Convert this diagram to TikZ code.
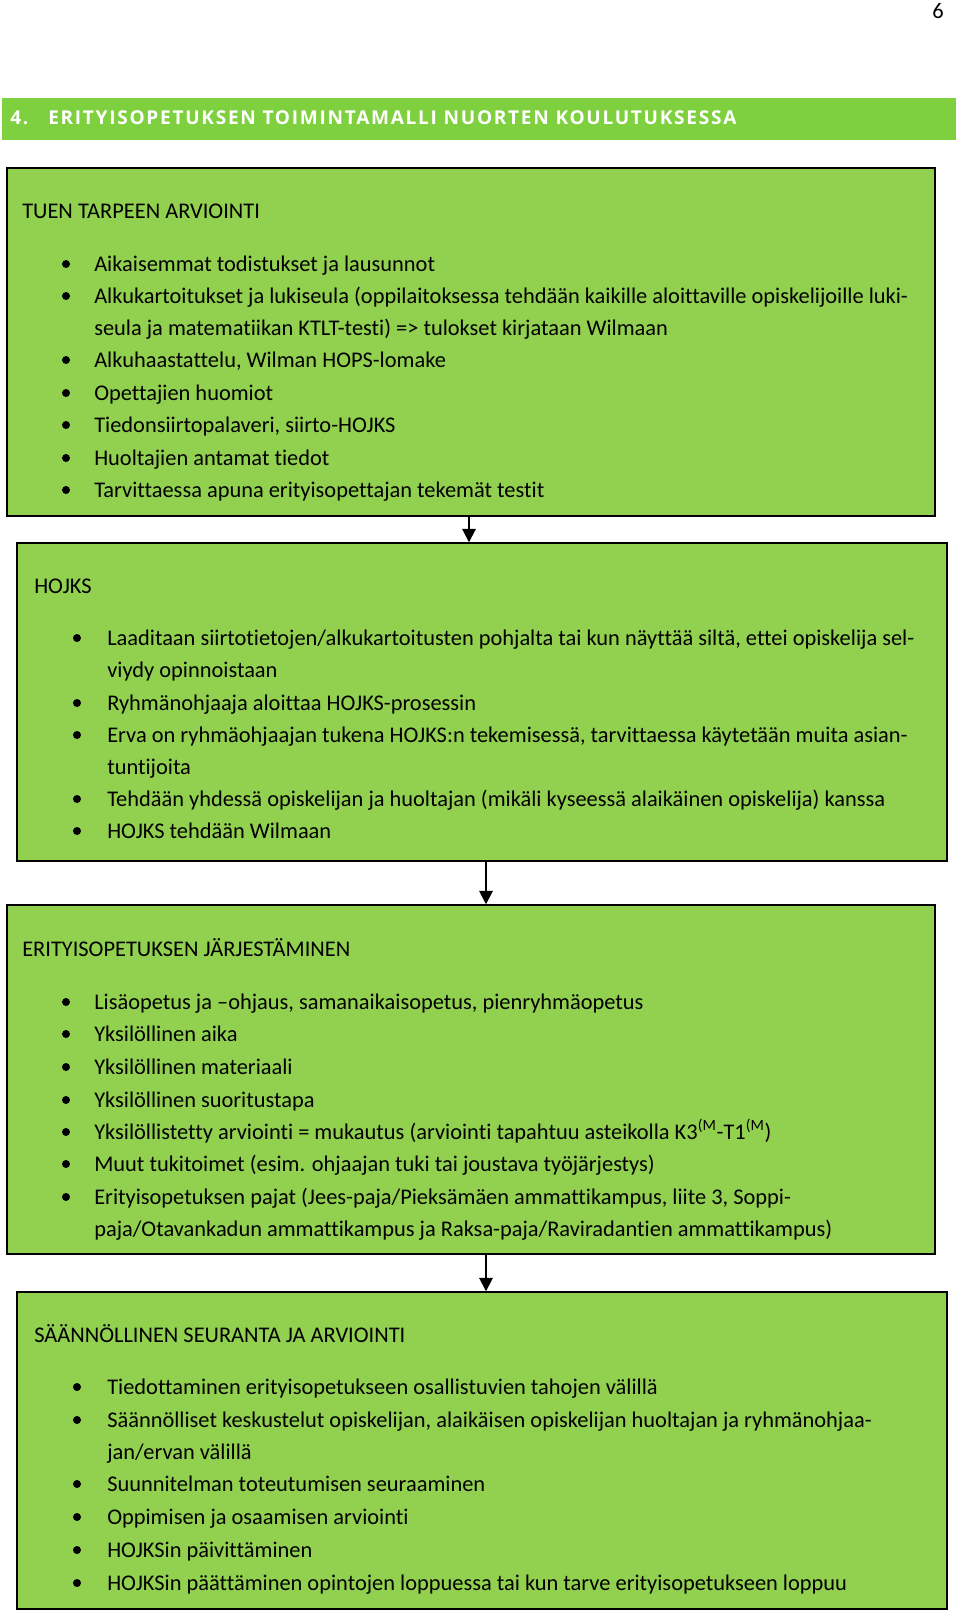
\documentclass[tikz,border=0pt]{standalone}
\usepackage{fontspec}
\setmainfont{Carlito}[Ligatures={TeX,NoCommon}]
\newfontfamily\titlefont[LetterSpace=9]{Open Sans}
\usetikzlibrary{arrows.meta,fit}
\definecolor{boxgreen}{HTML}{92D050}
\definecolor{headgreen}{HTML}{7ED03E}
\begin{document}
\begin{tikzpicture}[x=0.75pt,y=-0.75pt,
  box/.style={draw=black, line width=1.1pt, fill=boxgreen, inner sep=0pt},
  txt/.style={anchor=base west, inner sep=0pt, font=\fontsize{16.8}{20}\selectfont},
  dot/.style={circle, fill=black, inner sep=0pt, minimum size=6pt},
  flow/.style={line width=1.4pt, -{Triangle[length=10pt,width=10pt]}},
  head/.style={anchor=base west, inner sep=0pt, text=white, font=\titlefont\bfseries\fontsize{14.3}{16}\selectfont}]
\useasboundingbox (0,0) rectangle (960,1611);
% page number
\node[anchor=base, inner sep=0pt, font=\fontsize{16.8}{20}\selectfont] (pg) at (938,18) {6};
% header bar
\node[fill=headgreen, inner sep=0pt, fit={(2,98) (956,140)}] (hd) {};
\node[head] (hnum) at (10,124) {4.};
\node[head] (htitle) at (48,124) {ERITYISOPETUKSEN TOIMINTAMALLI NUORTEN KOULUTUKSESSA};
% boxes
\node[box, fit={(7,168) (935,516)}] (b1) {};
\node[box, fit={(17,543) (947,861)}] (b2) {};
\node[box, fit={(7,905) (935,1254)}] (b3) {};
\node[box, fit={(17,1292) (947,1609)}] (b4) {};
% arrows
\draw[flow] ([xshift=-1.5pt]b1.south) -- ([xshift=-1.5pt]b1.south |- b2.north);
\draw[flow] ([xshift=3pt]b2.south) -- ([xshift=3pt]b2.south |- b3.north);
\draw[flow] ([xshift=11.25pt]b3.south) -- ([xshift=11.25pt]b3.south |- b4.north);
% box 1
\node[txt] (b1h) at (22,218) {TUEN TARPEEN ARVIOINTI};
\node[dot] (b1d1) at (66,264) {};
\node[txt] (b1t1) at (94,271) {Aikaisemmat todistukset ja lausunnot};
\node[dot] (b1d2) at (66,296) {};
\node[txt] (b1t2) at (94,303) {Alkukartoitukset ja lukiseula (oppilaitoksessa tehdään kaikille aloittaville opiskelijoille luki-};
\node[txt] (b1t3) at (94,335) {seula ja matematiikan KTLT-testi) => tulokset kirjataan Wilmaan};
\node[dot] (b1d4) at (66,360) {};
\node[txt] (b1t4) at (94,367) {Alkuhaastattelu, Wilman HOPS-lomake};
\node[dot] (b1d5) at (66,393) {};
\node[txt] (b1t5) at (94,400) {Opettajien huomiot};
\node[dot] (b1d6) at (66,425) {};
\node[txt] (b1t6) at (94,432) {Tiedonsiirtopalaveri, siirto-HOJKS};
\node[dot] (b1d7) at (66,458) {};
\node[txt] (b1t7) at (94,465) {Huoltajien antamat tiedot};
\node[dot] (b1d8) at (66,490) {};
\node[txt] (b1t8) at (94,497) {Tarvittaessa apuna erityisopettajan tekemät testit};
% box 2
\node[txt] (b2h) at (34,593) {HOJKS};
\node[dot] (b2d1) at (77,638) {};
\node[txt] (b2t1) at (107,645) {Laaditaan siirtotietojen/alkukartoitusten pohjalta tai kun näyttää siltä, ettei opiskelija sel-};
\node[txt] (b2t2) at (107,677) {viydy opinnoistaan};
\node[dot] (b2d3) at (77,703) {};
\node[txt] (b2t3) at (107,710) {Ryhmänohjaaja aloittaa HOJKS-prosessin};
\node[dot] (b2d4) at (77,735) {};
\node[txt] (b2t4) at (107,742) {Erva on ryhmäohjaajan tukena HOJKS:n tekemisessä, tarvittaessa käytetään muita asian-};
\node[txt] (b2t5) at (107,774) {tuntijoita};
\node[dot] (b2d6) at (77,799) {};
\node[txt] (b2t6) at (107,806) {Tehdään yhdessä opiskelijan ja huoltajan (mikäli kyseessä alaikäinen opiskelija) kanssa};
\node[dot] (b2d7) at (77,831) {};
\node[txt] (b2t7) at (107,838) {HOJKS tehdään Wilmaan};
% box 3
\node[txt] (b3h) at (22,956) {ERITYISOPETUKSEN JÄRJESTÄMINEN};
\node[dot] (b3d1) at (66,1002) {};
\node[txt] (b3t1) at (94,1009) {Lisäopetus ja –ohjaus, samanaikaisopetus, pienryhmäopetus};
\node[dot] (b3d2) at (66,1034) {};
\node[txt] (b3t2) at (94,1041) {Yksilöllinen aika};
\node[dot] (b3d3) at (66,1067) {};
\node[txt] (b3t3) at (94,1074) {Yksilöllinen materiaali};
\node[dot] (b3d4) at (66,1100) {};
\node[txt] (b3t4) at (94,1107) {Yksilöllinen suoritustapa};
\node[dot] (b3d5) at (66,1132) {};
\node[txt] (b3t5) at (94,1139) {Yksilöllistetty arviointi = mukautus (arviointi tapahtuu asteikolla K3\textsuperscript{(M}-T1\textsuperscript{(M})};
\node[dot] (b3d6) at (66,1164) {};
\node[txt] (b3t6) at (94,1171) {Muut tukitoimet (esim. ohjaajan tuki tai joustava työjärjestys)};
\node[dot] (b3d7) at (66,1197) {};
\node[txt] (b3t7) at (94,1204) {Erityisopetuksen pajat (Jees-paja/Pieksämäen ammattikampus, liite 3, Soppi-};
\node[txt] (b3t8) at (94,1236) {paja/Otavankadun ammattikampus ja Raksa-paja/Raviradantien ammattikampus)};
% box 4
\node[txt] (b4h) at (34,1342) {SÄÄNNÖLLINEN SEURANTA JA ARVIOINTI};
\node[dot] (b4d1) at (77,1387) {};
\node[txt] (b4t1) at (107,1394) {Tiedottaminen erityisopetukseen osallistuvien tahojen välillä};
\node[dot] (b4d2) at (77,1420) {};
\node[txt] (b4t2) at (107,1427) {Säännölliset keskustelut opiskelijan, alaikäisen opiskelijan huoltajan ja ryhmänohjaa-};
\node[txt] (b4t3) at (107,1459) {jan/ervan välillä};
\node[dot] (b4d4) at (77,1484) {};
\node[txt] (b4t4) at (107,1491) {Suunnitelman toteutumisen seuraaminen};
\node[dot] (b4d5) at (77,1517) {};
\node[txt] (b4t5) at (107,1524) {Oppimisen ja osaamisen arviointi};
\node[dot] (b4d6) at (77,1550) {};
\node[txt] (b4t6) at (107,1557) {HOJKSin päivittäminen};
\node[dot] (b4d7) at (77,1583) {};
\node[txt] (b4t7) at (107,1590) {HOJKSin päättäminen opintojen loppuessa tai kun tarve erityisopetukseen loppuu};
\end{tikzpicture}
\end{document}
